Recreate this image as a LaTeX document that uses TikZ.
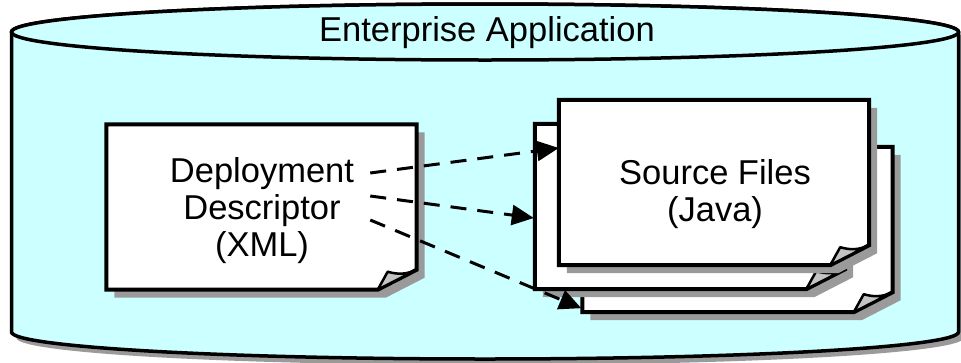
\documentclass[tikz,border=0pt]{standalone}
\usepackage{fontspec}
\setmainfont{Liberation Sans}
\usetikzlibrary{arrows.meta,calc,shadows}

\definecolor{appfill}{HTML}{CCFFFF}
\definecolor{shadowgray}{HTML}{9A9A9A}
\definecolor{flapgray}{HTML}{C4C4C4}

% a page with a folded corner, drawn round an empty node
\newcommand{\sheet}[1]{%
  \draw[sheetline] (#1.north west) -- (#1.north east) -- ([yshift=20pt]#1.south east)
    -- ([xshift=-39pt]#1.south east) -- (#1.south west) -- cycle;
  \draw[flap] ([xshift=-39pt]#1.south east) -- ([xshift=-29pt,yshift=18pt]#1.south east)
    to[bend right=20] ([yshift=20pt]#1.south east) -- cycle;
}

\begin{document}
\begin{tikzpicture}[x=1pt, y=-1pt, >={Triangle[length=22pt,width=20pt]},
	every node/.style={font=\fontsize{34.5}{37}\selectfont},
	sheet/.style={minimum width=310pt, minimum height=165pt, inner sep=0pt},
	sheetline/.style={line width=4pt, fill=white, drop shadow={shadow xshift=8pt, shadow yshift=-8pt, fill=shadowgray, opacity=1}},
	flap/.style={line width=2.5pt, line join=round, fill=flapgray},
	sheettext/.style={align=center, inner sep=0pt},
	link/.style={->, line width=3pt, dash pattern=on 16pt off 11pt}]
	\useasboundingbox (0,0) rectangle (961,362);

	% the application container
	\draw[line width=3.5pt, fill=appfill, drop shadow={shadow xshift=5pt, shadow yshift=-6pt, fill=shadowgray, opacity=1}]
		(11.5,32) -- (11.5,332) arc[start angle=180, end angle=0, x radius=473.5, y radius=27]
		-- (958.5,32) arc[start angle=0, end angle=-180, x radius=473.5, y radius=28] -- cycle;
	\draw[line width=3.5pt, fill=appfill] (485,32) ellipse[x radius=473.5, y radius=28];
	\node (app) at (487,33) {Enterprise Application};

	% pages
	\node[sheet] (dd) at (261.5,207) {};
	\node[sheet] (srcback) at (737.5,229.5) {};
	\node[sheet] (srcmid) at (690,206.5) {};
	\node[sheet] (src) at (714,182.5) {};
	\sheet{dd}
	\sheet{srcback}
	\sheet{srcmid}
	\sheet{src}

	\node[sheettext] (ddtext) at (262,211) {Deployment\\Descriptor\\(XML)};
	\node[sheettext] (srctext) at (715,194) {Source Files\\(Java)};

	% references from the descriptor
	\draw[link] ($(ddtext.east)+(16,-38)$) -- ($(src.west)+(0,-34.5)$);
	\draw[link] ($(ddtext.east)+(16,-15)$) -- ($(srcmid.west)+(-1,11.5)$);
	\draw[link] ($(ddtext.east)+(16,9)$) -- ($(srcback.south west)+(-1,-4)$);
\end{tikzpicture}
\end{document}
